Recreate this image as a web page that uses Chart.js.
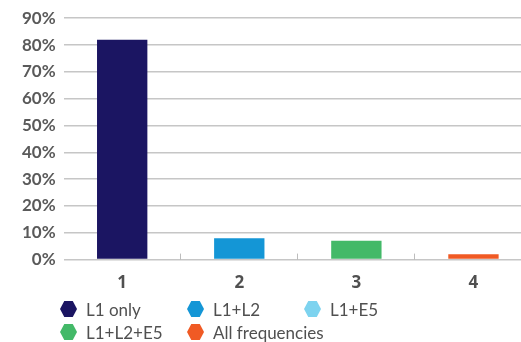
<!DOCTYPE html>
<html>
<head>
<meta charset="utf-8">
<script src="https://cdn.jsdelivr.net/npm/chart.js@4"></script>
<style>
  html, body { margin: 0; padding: 0; background: #fff; }
  body { width: 521px; height: 342px; overflow: hidden; position: relative; font-family: Lato, "Open Sans", sans-serif; }
  #box { position: absolute; left: 0; top: 0; width: 536px; height: 312px; }
  #legend { position: absolute; left: 60px; top: 300px; display: grid; grid-template-columns: 127px 117px auto; row-gap: 5px; }
  .item { display: flex; align-items: center; height: 18px; color: #505050; font-size: 17px; white-space: nowrap; }
  .hex { flex: 0 0 auto; width: 17px; height: 16px; margin-right: 9px; clip-path: polygon(25% 0, 75% 0, 100% 50%, 75% 100%, 25% 100%, 0 50%); }
</style>
</head>
<body>
<div id="box"><canvas id="grafica"></canvas></div>
<div id="legend"></div>
<script>
// datos
const categorias = ['1', '2', '3', '4'];
const valores = [82, 8, 7, 2]; // % por categoría
const coloresBarras = ['#1b1562', '#1496d6', '#43b968', '#f05a24'];
const nombresSeries = ['L1 only', 'L1+L2', 'L1+E5', 'L1+L2+E5', 'All frequencies'];
const coloresSeries = ['#1b1562', '#1496d6', '#7dd3ef', '#43b968', '#f05a24'];
const ticksY = [0, 10, 20, 30, 40, 50, 60, 70, 80, 90];

// Leyenda en HTML (columnas fijas como en el original)
const leyenda = document.getElementById('legend');
nombresSeries.forEach((nombre, i) => {
    const item = document.createElement('div');
    item.className = 'item';
    const hex = document.createElement('span');
    hex.className = 'hex';
    hex.style.background = coloresSeries[i];
    item.appendChild(hex);
    item.appendChild(document.createTextNode(nombre));
    leyenda.appendChild(item);
});

const ctx = document.getElementById('grafica').getContext('2d');
new Chart(ctx, {
    type: 'bar',
    data: {
        labels: categorias,
        datasets: [{
            data: valores,
            backgroundColor: coloresBarras,
            categoryPercentage: 1,
            barPercentage: 0.43
        }]
    },
    options: {
        responsive: true,
        maintainAspectRatio: false,
        animation: false,
        layout: { padding: { top: 8, left: 14, right: 4, bottom: 0 } },
        plugins: { legend: { display: false }, tooltip: { enabled: false } },
        scales: {
            y: {
                min: ticksY[0],
                max: ticksY[ticksY.length - 1],
                afterBuildTicks: axis => { axis.ticks = ticksY.map(v => ({ value: v })); },
                ticks: {
                    callback: v => v + '%',
                    color: '#5a5a5a',
                    font: { family: 'Lato', size: 17, weight: 'bold' },
                    padding: 8
                },
                grid: { color: '#c6c6c6', lineWidth: 1.5, drawTicks: false },
                border: { display: false }
            },
            x: {
                ticks: {
                    color: '#505050',
                    font: { family: 'Open Sans', size: 17, weight: 'bold' },
                    padding: 19
                },
                grid: {
                    offset: true,
                    drawOnChartArea: false,
                    tickLength: -6,
                    lineWidth: 1,
                    color: c => (c.index === 0 ? 'rgba(0,0,0,0)' : '#bdbdbd')
                },
                border: { display: false }
            }
        }
    }
});
</script>
</body>
</html>
